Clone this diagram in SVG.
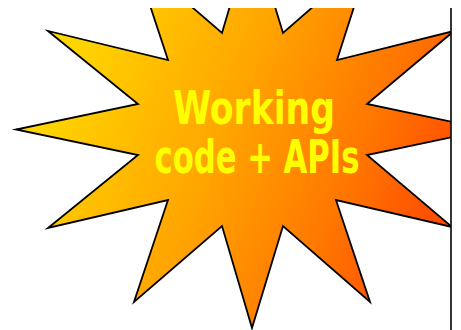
<svg xmlns="http://www.w3.org/2000/svg" width="461" height="330" viewBox="0 0 461 330">
  <defs>
    <linearGradient id="burstFill" gradientUnits="userSpaceOnUse" x1="40" y1="60" x2="450" y2="230">
      <stop offset="0" stop-color="#FFDC00"/>
      <stop offset="0.45" stop-color="#FFA400"/>
      <stop offset="0.75" stop-color="#FF7600"/>
      <stop offset="1" stop-color="#FF4600"/>
    </linearGradient>
    <clipPath id="frame">
      <rect x="0" y="8" width="451" height="322"/>
    </clipPath>
    <style>
      .burst { fill: url(#burstFill); stroke: #000; stroke-width: 1.8; stroke-linejoin: miter; stroke-miterlimit: 20; }
      .label { fill: #FFFF00; font-family: "DejaVu Sans Condensed", "DejaVu Sans", sans-serif; font-weight: bold; font-size: 47px; text-anchor: middle; }
      .edge { stroke: #000; stroke-width: 1.6; fill: none; }
    </style>
  </defs>

  <!-- twelve-point starburst, cropped by the page frame -->
  <g id="burst" clip-path="url(#frame)">
    <polygon class="burst" points="252,-69 283,33 370,-43 337,60 454,31 367,104 489,129.5 367,155 452,227 336,200 370,302 283,226 252,328 222,226 134,302 168,200 48,228 138,155 16,129.5 138,104 48,31 168,60 134,-43 222,33"/>
    <text class="label" x="254" y="124" textLength="162" lengthAdjust="spacingAndGlyphs">Working</text>
    <text class="label" x="257" y="173" textLength="205" lengthAdjust="spacingAndGlyphs">code + APIs</text>
  </g>

  <!-- right page edge -->
  <g id="connectors">
    <line class="edge" x1="451" y1="8" x2="451" y2="330"/>
  </g>
</svg>
